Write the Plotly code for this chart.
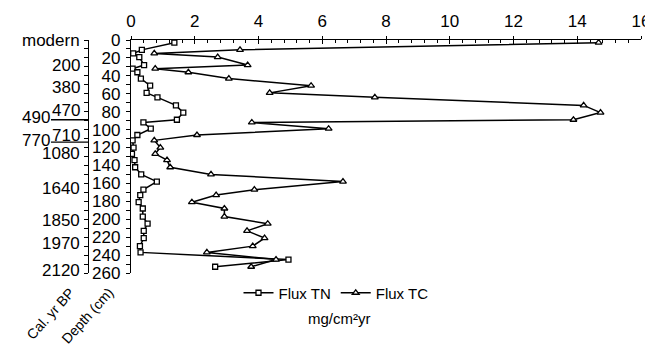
import plotly.graph_objects as go

depth = [3, 11, 15, 19, 28, 32, 36, 43, 51, 59, 64, 73, 81, 89, 92, 99, 106, 112,
         120, 127, 134, 142, 150, 158, 167, 173, 181, 188, 197, 205, 213, 221, 230,
         237, 245, 253]
flux_tn = [1.36, 0.34, 0.07, 0.26, 0.41, 0.05, 0.2, 0.31, 0.6, 0.49, 0.83, 1.41,
           1.64, 1.44, 0.39, 0.62, 0.2, 0.05, 0.08, 0.03, 0.11, 0.13, 0.32, 0.81,
           0.39, 0.29, 0.24, 0.37, 0.37, 0.52, 0.4, 0.4, 0.28, 0.3, 4.94, 2.64]
flux_tc = [14.67, 3.42, 0.73, 2.72, 3.66, 0.76, 1.8, 3.07, 5.65, 4.35, 7.65, 14.2,
           14.73, 13.88, 3.79, 6.2, 2.07, 0.73, 0.92, 0.76, 1.13, 1.23, 2.51, 6.65,
           3.87, 2.67, 1.91, 2.93, 2.93, 4.29, 3.64, 4.19, 3.82, 2.38, 4.55, 3.77]

cal_depths = [0, 29, 53, 79, 107, 127, 166, 201, 227, 257]
cal_labels = ["modern", "200", "380", "470", "710", "1080", "1640", "1850", "1970", "2120"]
hiatus_depths = [89, 114]
hiatus_labels = ["490", "770"]
hiatus_label_depths = [87, 112]

FONT = "Liberation Sans, Arial, sans-serif"
L, R = 30, 20
W = 653
plot_w = W - L - R
def px(xp):
    return (xp - L) / plot_w

fig = go.Figure()
fig.add_trace(go.Scatter(x=flux_tn, y=depth, mode="lines+markers", name="Flux TN",
                         line=dict(color="black", width=1.5),
                         marker=dict(symbol="square", size=5, color="white",
                                     line=dict(color="black", width=1.3))))
fig.add_trace(go.Scatter(x=flux_tc, y=depth, mode="lines+markers", name="Flux TC",
                         line=dict(color="black", width=1.5),
                         marker=dict(symbol="triangle-up", size=6, color="white",
                                     line=dict(color="black", width=1.3))))

xdom = [px(123), 1.0]
fig.update_layout(
    width=653, height=349,
    margin=dict(l=L, r=R, t=32, b=84, autoexpand=False),
    paper_bgcolor="white", plot_bgcolor="white",
    font=dict(family=FONT, color="black", size=17),
    showlegend=True,
    legend=dict(orientation="h", x=px(328), xanchor="center", y=-20/233, yanchor="middle",
                font=dict(size=15), itemwidth=30, bgcolor="rgba(0,0,0,0)"),
    xaxis=dict(domain=xdom, range=[0, 16], side="top", anchor="y", automargin=False,
               showline=True, linecolor="black", linewidth=1.3, showgrid=False, zeroline=False,
               ticks="inside", ticklen=4, tickcolor="black", dtick=2, tick0=0,
               showticklabels=False,
               minor=dict(ticks="inside", ticklen=3, dtick=0.4, tick0=0, tickcolor="black")),
    xaxis2=dict(domain=xdom, range=[0, 16], side="top", overlaying="x", anchor="y",
                automargin=False,
                showline=False, showgrid=False, zeroline=False,
                ticks="outside", ticklen=3, tickcolor="black", dtick=2, tick0=0,
                ticklabelstandoff=2, tickfont=dict(size=17)),
    yaxis=dict(range=[260, 0], anchor="x", showline=True, linecolor="black", linewidth=1.3,
               automargin=False,
               showgrid=False, zeroline=False, ticks="outside", ticklen=4, tickcolor="black",
               dtick=20, tick0=0, tickfont=dict(size=17), ticklabelstandoff=2,
               minor=dict(ticks="outside", ticklen=4, dtick=10, tick0=0, tickcolor="black")),
    yaxis2=dict(range=[260, 0], overlaying="y", anchor="free", position=px(80), side="left",
                automargin=False,
                showline=True, linecolor="black", linewidth=1.3, showgrid=False, zeroline=False,
                showticklabels=False, ticks="outside", ticklen=4, tickcolor="black",
                tickmode="linear", dtick=10, tick0=0),
)
fig.add_trace(go.Scatter(x=[None], y=[None], xaxis="x2", yaxis="y", showlegend=False))
fig.add_trace(go.Scatter(x=[None], y=[None], xaxis="x", yaxis="y2", showlegend=False))

for d, lab in zip(cal_depths, cal_labels):
    fig.add_annotation(text=lab, xref="paper", yref="y", x=px(74), y=d, xanchor="right",
                       yanchor="middle", showarrow=False, font=dict(size=17))

for d, lab, ld in zip(hiatus_depths, hiatus_labels, hiatus_label_depths):
    fig.add_shape(type="line", xref="paper", yref="y", x0=px(43), x1=px(80), y0=d, y1=d,
                  line=dict(color="black", width=1.3))
    fig.add_annotation(text=lab, xref="paper", yref="y", x=px(44), y=ld, xanchor="right",
                       yanchor="middle", showarrow=False, font=dict(size=17))

fig.add_annotation(text="mg/cm²yr", xref="paper", yref="paper", x=px(331), y=-(310-265)/233,
                   xanchor="center", yanchor="middle", showarrow=False, font=dict(size=15))
fig.add_annotation(text="Cal. yr BP", xref="paper", yref="paper", x=px(42), y=-(306-265)/233,
                   xanchor="center", yanchor="middle", showarrow=False, textangle=-48,
                   font=dict(size=14))
fig.add_annotation(text="Depth (cm)", xref="paper", yref="paper", x=px(79), y=-(308-265)/233,
                   xanchor="center", yanchor="middle", showarrow=False, textangle=-48,
                   font=dict(size=14))

fig.write_html("out.html")
